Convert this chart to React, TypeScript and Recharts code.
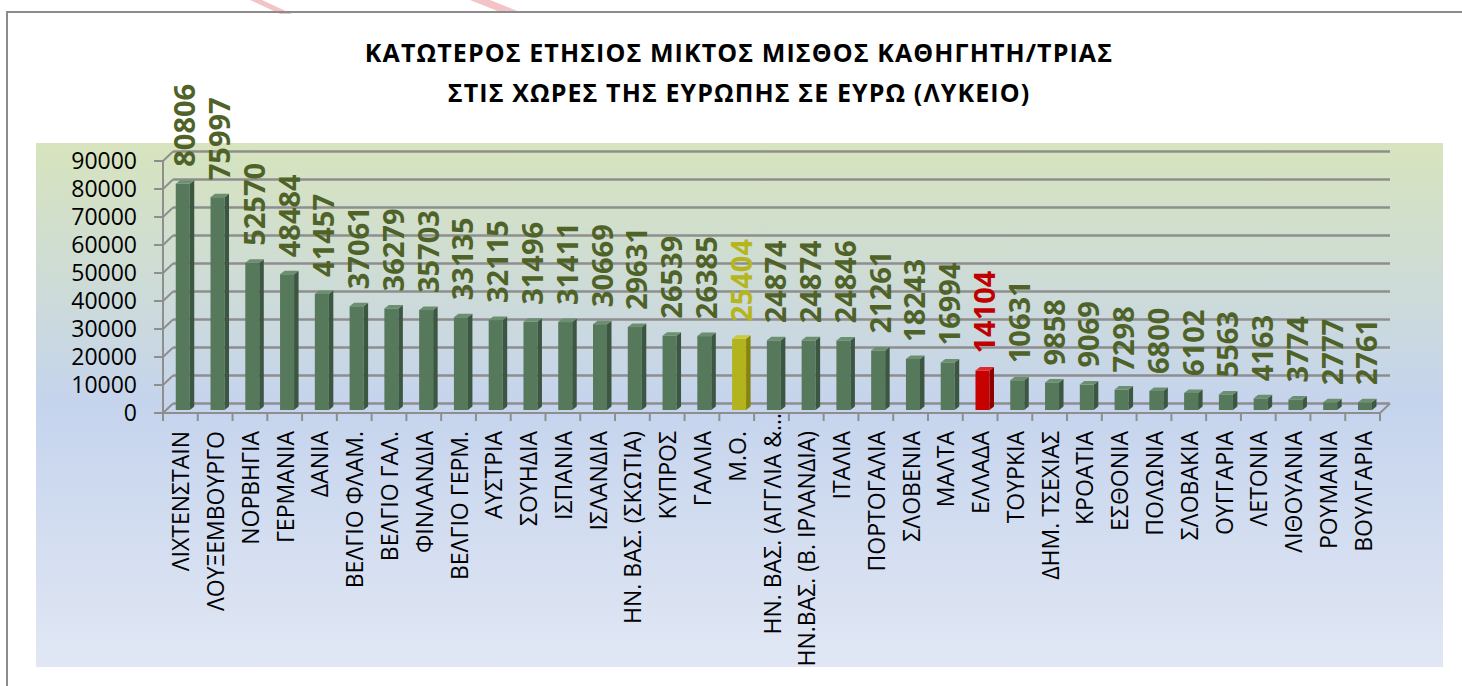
import React from "react";
import { BarChart, Bar, XAxis, YAxis, CartesianGrid, LabelList } from "recharts";

// countries in the order of the chart, highest salary first
const countries = [
  "ΛΙΧΤΕΝΣΤΑΙΝ",
  "ΛΟΥΞΕΜΒΟΥΡΓΟ",
  "ΝΟΡΒΗΓΙΑ",
  "ΓΕΡΜΑΝΙΑ",
  "ΔΑΝΙΑ",
  "ΒΕΛΓΙΟ ΦΛΑΜ.",
  "ΒΕΛΓΙΟ ΓΑΛ.",
  "ΦΙΝΛΑΝΔΙΑ",
  "ΒΕΛΓΙΟ ΓΕΡΜ.",
  "ΑΥΣΤΡΙΑ",
  "ΣΟΥΗΔΙΑ",
  "ΙΣΠΑΝΙΑ",
  "ΙΣΛΑΝΔΙΑ",
  "ΗΝ. ΒΑΣ. (ΣΚΩΤΙΑ)",
  "ΚΥΠΡΟΣ",
  "ΓΑΛΛΙΑ",
  "Μ.Ο.",
  "ΗΝ. ΒΑΣ. (ΑΓΓΛΙΑ &...",
  "ΗΝ.ΒΑΣ. (Β. ΙΡΛΑΝΔΙΑ)",
  "ΙΤΑΛΙΑ",
  "ΠΟΡΤΟΓΑΛΙΑ",
  "ΣΛΟΒΕΝΙΑ",
  "ΜΑΛΤΑ",
  "ΕΛΛΑΔΑ",
  "ΤΟΥΡΚΙΑ",
  "ΔΗΜ. ΤΣΕΧΙΑΣ",
  "ΚΡΟΑΤΙΑ",
  "ΕΣΘΟΝΙΑ",
  "ΠΟΛΩΝΙΑ",
  "ΣΛΟΒΑΚΙΑ",
  "ΟΥΓΓΑΡΙΑ",
  "ΛΕΤΟΝΙΑ",
  "ΛΙΘΟΥΑΝΙΑ",
  "ΡΟΥΜΑΝΙΑ",
  "ΒΟΥΛΓΑΡΙΑ",
];

const salaries = [
  80806, 75997, 52570, 48484, 41457, 37061, 36279, 35703, 33135, 32115, 31496,
  31411, 30669, 29631, 26539, 26385, 25404, 24874, 24874, 24846, 21261, 18243,
  16994, 14104, 10631, 9858, 9069, 7298, 6800, 6102, 5563, 4163, 3774, 2777,
  2761,
];

const yTicks = [0, 10000, 20000, 30000, 40000, 50000, 60000, 70000, 80000, 90000];

const AVERAGE = "Μ.Ο.";
const GREECE = "ΕΛΛΑΔΑ";

const data = countries.map((name, i) => ({ name, value: salaries[i] }));

const FONT = "'Open Sans', sans-serif";
const GRID = "#8E8E8E";
// depth of the 3d walls
const DX = 10;
const DY = -9.5;

function palette(name: string) {
  if (name === GREECE)
    return { front: "#C70000", side: "#8E0000", top: "#DE2A2A", label: "#C00000" };
  if (name === AVERAGE)
    return { front: "#B3B31E", side: "#84840F", top: "#C9C93A", label: "#B5B51D" };
  return { front: "#56785B", side: "#3C5741", top: "#6C8F70", label: "#4F6228" };
}

function Column(props: any) {
  const { x, y, width, height, payload } = props;
  if (height == null || width == null) return null;
  const c = palette(payload.name);
  const fx = x + 2.75;
  const fy = y - 3;
  const d = 4.5;
  const e = 3.5;
  return (
    <g>
      <rect x={fx} y={fy} width={width} height={height} fill={c.front} />
      <polygon
        points={`${fx + width},${fy} ${fx + width + d},${fy - e} ${fx + width + d},${fy + height - e} ${fx + width},${fy + height}`}
        fill={c.side}
      />
      <polygon
        points={`${fx},${fy} ${fx + d},${fy - e} ${fx + width + d},${fy - e} ${fx + width},${fy}`}
        fill={c.top}
      />
    </g>
  );
}

function ValueLabel(props: any) {
  const { x, y, width, value, index } = props;
  const c = palette(countries[index]);
  const cx = Number(x) + Number(width) / 2 + 3.75;
  const base = Number(y) - 3 - 17;
  return (
    <text
      x={cx}
      y={base}
      transform={`rotate(-90 ${cx} ${base})`}
      textAnchor="start"
      dominantBaseline="central"
      fontSize={29}
      fontWeight={700}
      fontFamily={FONT}
      fill={c.label}
    >
      {value}
    </text>
  );
}

function CountryTick(props: any) {
  const { x, y, payload, index } = props;
  const half = payload.offset ?? 17.4;
  const label: string = payload.value;
  const cut = label.endsWith("...");
  const ty = y + 18;
  return (
    <g>
      <line x1={x - half} y1={y} x2={x - half} y2={y + 8} stroke={GRID} strokeWidth={2} />
      {index === countries.length - 1 && (
        <line x1={x + half} y1={y} x2={x + half} y2={y + 8} stroke={GRID} strokeWidth={2} />
      )}
      <text
        x={x}
        y={ty}
        transform={`rotate(-90 ${x} ${ty})`}
        textAnchor="end"
        dominantBaseline="central"
        fontSize={23}
        fontFamily={FONT}
        fill="#000"
      >
        {cut ? label.slice(0, -3) : label}
      </text>
      {cut && (
        <text
          x={x}
          y={ty}
          transform={`rotate(-90 ${x} ${ty})`}
          textAnchor="start"
          dominantBaseline="central"
          fontSize={23}
          fontFamily={FONT}
          fill="#000"
        >
          ...
        </text>
      )}
    </g>
  );
}

// back wall grid line, with the little diagonal to the front axis
function WallLine(props: any) {
  const { x1, y1, x2, y, height, index } = props;
  const bottom = y != null && height != null && Math.abs(y1 - (y + height)) < 1;
  return (
    <g key={`wall-${index}`}>
      <line x1={x1} y1={y1} x2={x1 + DX} y2={y1 + DY} stroke={GRID} strokeWidth={2} />
      <line x1={x1 + DX} y1={y1 + DY} x2={x2 + DX} y2={y1 + DY} stroke={GRID} strokeWidth={2.5} />
      {bottom && (
        <line x1={x2} y1={y1} x2={x2 + DX} y2={y1 + DY} stroke={GRID} strokeWidth={2} />
      )}
    </g>
  );
}

export default function App() {
  return (
    <div
      style={{
        position: "absolute",
        left: 0,
        top: 0,
        width: 1462,
        height: 686,
        background: "#fff",
        overflow: "hidden",
      }}
    >
      <svg width={1462} height={686} style={{ position: "absolute", left: 0, top: 0 }}>
        <defs>
          <linearGradient id="wall" x1="0" y1="0" x2="0" y2="1">
            <stop offset="0%" stopColor="#D7E4BD" />
            <stop offset="50%" stopColor="#C5D4ED" />
            <stop offset="100%" stopColor="#E1E7F4" />
          </linearGradient>
        </defs>
        <polygon points="250,0 262,0 292,14 280,14" fill="#F3C4C7" />
        <polygon points="470,0 490,0 520,12 500,12" fill="#F3C4C7" />
        <rect x={7} y={12} width={1500} height={720} fill="none" stroke="#8C8C8C" strokeWidth={2} />
        <rect x={36} y={143} width={1407} height={524} fill="url(#wall)" />
        <text
          x={739}
          textAnchor="middle"
          fontFamily={FONT}
          fontWeight={700}
          fontSize={25}
          letterSpacing={1.1}
          fill="#000"
        >
          <tspan x={739} y={62}>ΚΑΤΩΤΕΡΟΣ ΕΤΗΣΙΟΣ ΜΙΚΤΟΣ ΜΙΣΘΟΣ ΚΑΘΗΓΗΤΗ/ΤΡΙΑΣ</tspan>
          <tspan x={739} y={102}>ΣΤΙΣ ΧΩΡΕΣ ΤΗΣ ΕΥΡΩΠΗΣ ΣΕ ΕΥΡΩ (ΛΥΚΕΙΟ)</tspan>
        </text>
      </svg>
      <div style={{ position: "absolute", left: 0, top: 0 }}>
        <BarChart
          width={1462}
          height={686}
          data={data}
          margin={{ top: 161, right: 82, bottom: 0, left: 0 }}
          barSize={14}
        >
          <CartesianGrid vertical={false} horizontal={WallLine} />
          <YAxis
            width={163}
            domain={[0, 90000]}
            ticks={yTicks}
            interval={0}
            tickSize={9}
            tickMargin={17}
            axisLine={{ stroke: GRID, strokeWidth: 2 }}
            tickLine={{ stroke: GRID, strokeWidth: 2 }}
            tick={{ fill: "#000", fontSize: 23, fontFamily: FONT }}
          />
          <XAxis
            dataKey="name"
            height={273}
            interval={0}
            tickSize={0}
            tickMargin={0}
            tickLine={false}
            axisLine={{ stroke: GRID, strokeWidth: 2 }}
            tick={<CountryTick />}
          />
          <Bar dataKey="value" shape={<Column />} isAnimationActive={false}>
            <LabelList dataKey="value" content={<ValueLabel />} />
          </Bar>
        </BarChart>
      </div>
    </div>
  );
}
